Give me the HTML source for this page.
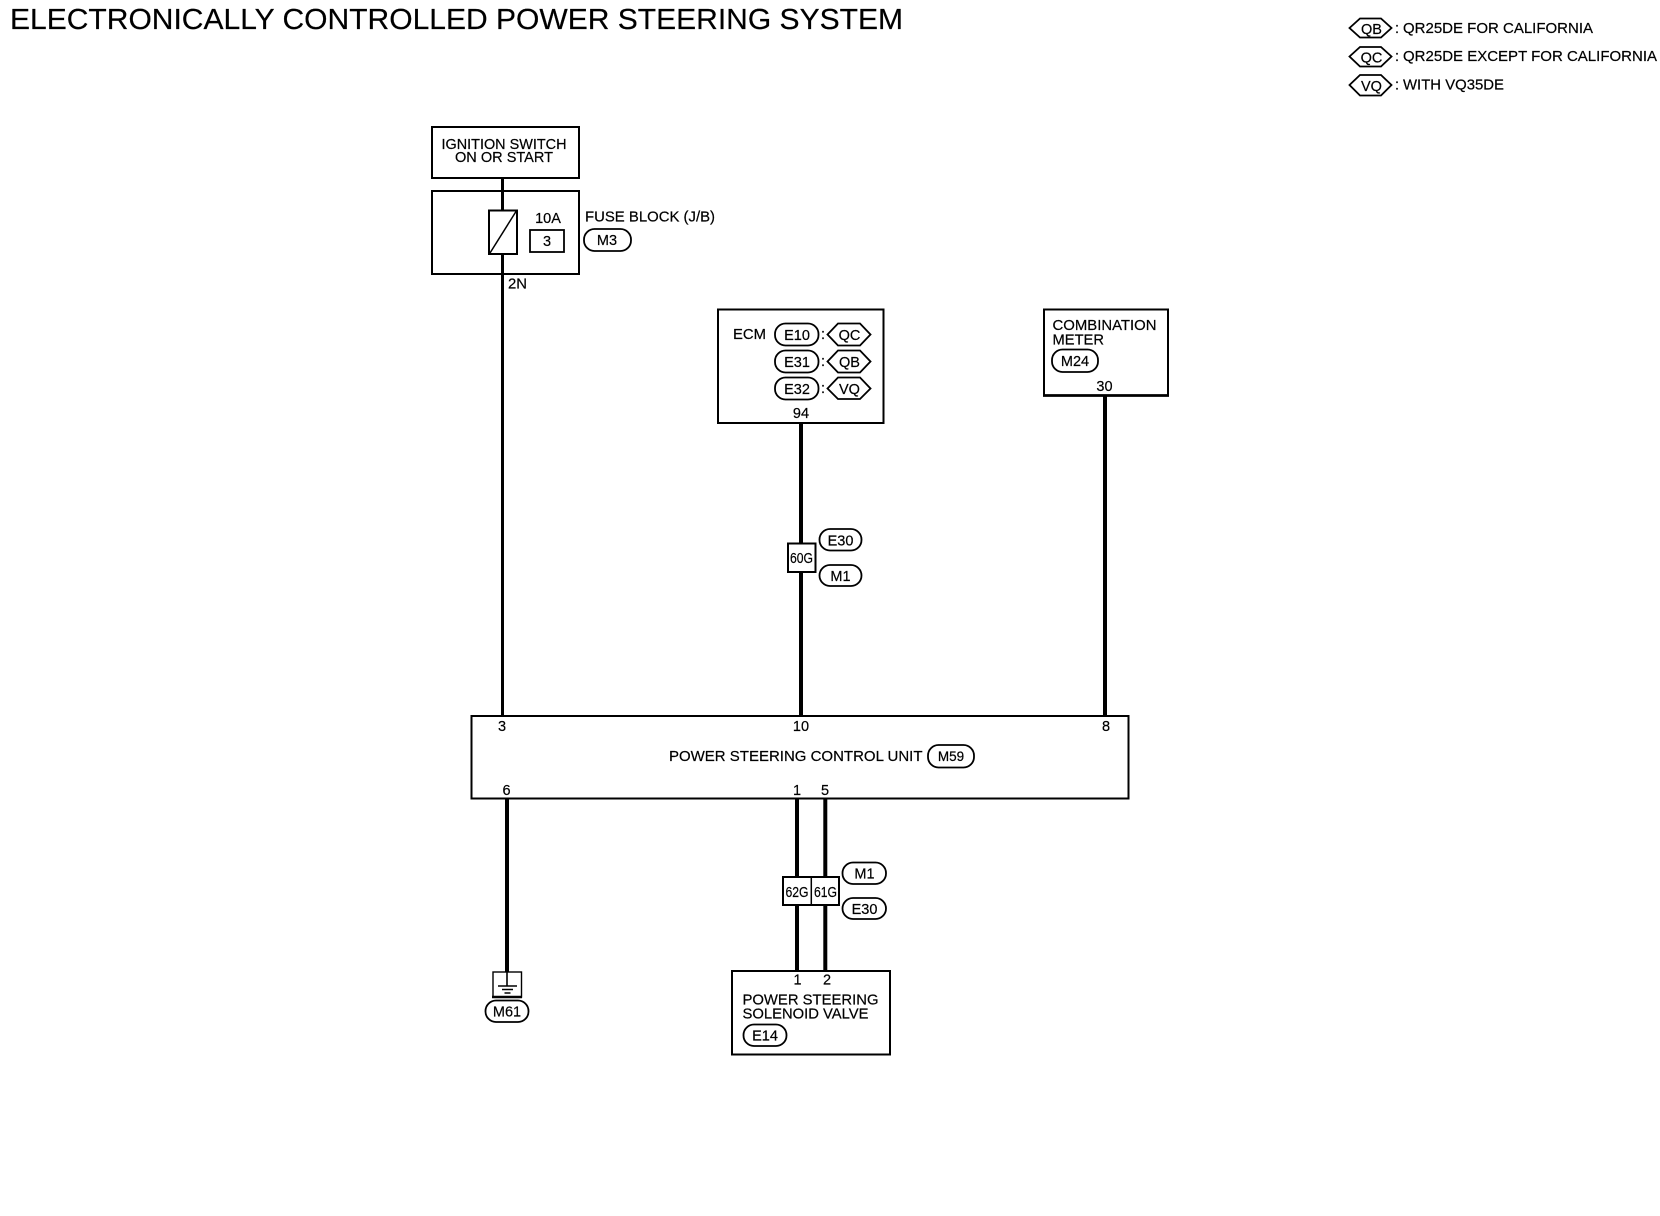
<!DOCTYPE html>
<html>
<head>
<meta charset="utf-8">
<style>
html,body{margin:0;padding:0;background:#fff;width:1660px;height:1216px;overflow:hidden}
svg{display:block}
text{font-family:"Liberation Sans",sans-serif;font-size:14.5px;fill:#000;stroke:#000;stroke-width:.2}
.m{text-anchor:middle}
.b{fill:#fff;stroke:#000;stroke-width:2}
.p{fill:#fff;stroke:#000;stroke-width:1.8}
.w{stroke:#000;stroke-width:4;fill:none}
.t{stroke:#000;stroke-width:3;fill:none}
.s{stroke:#000;stroke-width:1.5;fill:none}
</style>
</head>
<body>
<svg width="1660" height="1216" viewBox="0 0 1660 1216" xmlns="http://www.w3.org/2000/svg">
<rect width="1660" height="1216" fill="#fff"/>

<text x="10" y="29" style="font-size:29px" textLength="893" lengthAdjust="spacingAndGlyphs">ELECTRONICALLY CONTROLLED POWER STEERING SYSTEM</text>

<!-- legend -->
<polygon class="p" points="1349.5,28 1360,18.5 1381,18.5 1391.5,28 1381,37.5 1360,37.5"/>
<text class="m" x="1371.5" y="34">QB</text>
<text x="1395" y="33">:</text>
<text x="1403" y="33" textLength="190" lengthAdjust="spacingAndGlyphs">QR25DE FOR CALIFORNIA</text>
<polygon class="p" points="1349.5,56.5 1360,47 1381,47 1391.5,56.5 1381,66.5 1360,66.5"/>
<text class="m" x="1371.5" y="62.5">QC</text>
<text x="1395" y="61">:</text>
<text x="1403" y="61" textLength="254" lengthAdjust="spacingAndGlyphs">QR25DE EXCEPT FOR CALIFORNIA</text>
<polygon class="p" points="1349.5,85 1360,75 1381,75 1391.5,85 1381,95.5 1360,95.5"/>
<text class="m" x="1371.5" y="91">VQ</text>
<text x="1395" y="89.5">:</text>
<text x="1403" y="89.5" textLength="101" lengthAdjust="spacingAndGlyphs">WITH VQ35DE</text>

<!-- wires -->
<line class="t" x1="502.5" y1="178" x2="502.5" y2="716"/>
<line class="w" x1="801" y1="423" x2="801" y2="716"/>
<line class="w" x1="1105" y1="396" x2="1105" y2="716"/>
<line class="w" x1="507" y1="798" x2="507" y2="972"/>
<line class="w" x1="797" y1="798" x2="797" y2="971"/>
<line class="w" x1="825.3" y1="798" x2="825.3" y2="971"/>

<!-- ignition switch -->
<rect class="b" x="432" y="127" width="147" height="51"/>
<text x="441.5" y="149" textLength="125" lengthAdjust="spacingAndGlyphs">IGNITION SWITCH</text>
<text x="455" y="162" textLength="98" lengthAdjust="spacingAndGlyphs">ON OR START</text>

<!-- fuse block -->
<rect class="b" x="432" y="191" width="147" height="83" style="fill:none"/>
<rect class="b" x="489" y="210.5" width="28" height="43.5"/>
<line class="s" x1="490" y1="253" x2="516" y2="211.5"/>
<text class="m" x="548" y="223">10A</text>
<rect class="p" x="530" y="230" width="34" height="22"/>
<text class="m" x="547" y="246">3</text>
<text x="585" y="221.5" textLength="130" lengthAdjust="spacingAndGlyphs">FUSE BLOCK (J/B)</text>
<rect class="p" x="584" y="229" width="47" height="22" rx="10.5"/>
<text class="m" x="607" y="245">M3</text>
<text x="508" y="288.5" textLength="19" lengthAdjust="spacingAndGlyphs">2N</text>

<!-- ECM -->
<rect class="b" x="718" y="309.5" width="165.5" height="113.5"/>
<text x="733" y="339" textLength="33" lengthAdjust="spacingAndGlyphs">ECM</text>
<rect class="p" x="775" y="323.5" width="43.5" height="22" rx="10.5"/>
<text class="m" x="797" y="340">E10</text>
<text x="821" y="339">:</text>
<polygon class="p" points="827.5,334.5 838,323.5 860,323.5 870.5,334.5 860,345.5 838,345.5"/>
<text class="m" x="849.5" y="340">QC</text>
<rect class="p" x="775" y="350.5" width="43.5" height="22" rx="10.5"/>
<text class="m" x="797" y="367">E31</text>
<text x="821" y="366">:</text>
<polygon class="p" points="827.5,361.5 838,350.5 860,350.5 870.5,361.5 860,372.5 838,372.5"/>
<text class="m" x="849.5" y="367">QB</text>
<rect class="p" x="775" y="377.5" width="43.5" height="22" rx="10.5"/>
<text class="m" x="797" y="394">E32</text>
<text x="821" y="393">:</text>
<polygon class="p" points="827.5,388.5 838,377.5 860,377.5 870.5,388.5 860,399 838,399"/>
<text class="m" x="849.5" y="394">VQ</text>
<text class="m" x="801" y="418">94</text>

<!-- combination meter -->
<rect class="b" x="1044" y="309.5" width="124" height="86"/>
<line x1="1043" y1="395.5" x2="1169" y2="395.5" stroke="#000" stroke-width="2.8"/>
<text x="1052.5" y="330" textLength="104" lengthAdjust="spacingAndGlyphs">COMBINATION</text>
<text x="1052.5" y="344.5" textLength="51.5" lengthAdjust="spacingAndGlyphs">METER</text>
<rect class="p" x="1052" y="349.5" width="46" height="22.5" rx="10.5"/>
<text class="m" x="1075" y="366">M24</text>
<text class="m" x="1104.5" y="391">30</text>

<!-- connector 60G -->
<rect class="b" x="788" y="543.5" width="27.5" height="28.5"/>
<text class="m" x="801.5" y="563" style="font-size:14.5px" textLength="23" lengthAdjust="spacingAndGlyphs">60G</text>
<rect class="p" x="819.5" y="529" width="42" height="21.5" rx="10.5"/>
<text class="m" x="840.5" y="545.5">E30</text>
<rect class="p" x="819.5" y="565" width="42" height="21" rx="10.5"/>
<text class="m" x="840.5" y="581">M1</text>

<!-- control unit -->
<rect class="b" x="471.5" y="716" width="657" height="82.5"/>
<text class="m" x="502" y="731">3</text>
<text class="m" x="801" y="731">10</text>
<text class="m" x="1106" y="731">8</text>
<text x="669" y="761" textLength="253.5" lengthAdjust="spacingAndGlyphs">POWER STEERING CONTROL UNIT</text>
<rect class="p" x="928" y="745" width="46" height="22.5" rx="10.5"/>
<text class="m" x="951" y="761" style="font-size:13.5px">M59</text>
<text class="m" x="506.5" y="795">6</text>
<text class="m" x="797" y="795">1</text>
<text class="m" x="825" y="795">5</text>

<!-- connector 62G 61G -->
<rect class="b" x="783" y="877" width="56" height="28"/>
<line class="s" x1="811.3" y1="877" x2="811.3" y2="905"/>
<text class="m" x="797" y="897" style="font-size:14.5px" textLength="23" lengthAdjust="spacingAndGlyphs">62G</text>
<text class="m" x="825.5" y="897" style="font-size:14.5px" textLength="23" lengthAdjust="spacingAndGlyphs">61G</text>
<rect class="p" x="842.5" y="862.5" width="43.5" height="21.5" rx="10.5"/>
<text class="m" x="864.5" y="878.5">M1</text>
<rect class="p" x="842.5" y="898" width="43.5" height="21" rx="10.5"/>
<text class="m" x="864.5" y="914">E30</text>

<!-- ground -->
<rect class="p" x="493" y="972" width="28.5" height="25" style="stroke-width:1.4"/>
<line x1="492" y1="997" x2="522" y2="997" stroke="#000" stroke-width="2.4"/>
<line x1="507" y1="971" x2="507" y2="986" stroke="#000" stroke-width="1.6"/>
<line class="s" x1="498" y1="986" x2="517" y2="986"/>
<line class="s" x1="502" y1="989.5" x2="513" y2="989.5"/>
<line class="s" x1="504.5" y1="993" x2="510.5" y2="993"/>
<rect class="p" x="485.5" y="1000.5" width="43" height="21.5" rx="10.5"/>
<text class="m" x="507" y="1016.5">M61</text>

<!-- solenoid valve -->
<rect class="b" x="732" y="971" width="158" height="83.5"/>
<text class="m" x="797.5" y="984.5">1</text>
<text class="m" x="827" y="984.5">2</text>
<text x="742.5" y="1004.5" textLength="136" lengthAdjust="spacingAndGlyphs">POWER STEERING</text>
<text x="742.5" y="1018.5" textLength="126" lengthAdjust="spacingAndGlyphs">SOLENOID VALVE</text>
<rect class="p" x="743.5" y="1024.5" width="43" height="21.5" rx="10.5"/>
<text class="m" x="765" y="1040.5">E14</text>
</svg>
</body>
</html>
